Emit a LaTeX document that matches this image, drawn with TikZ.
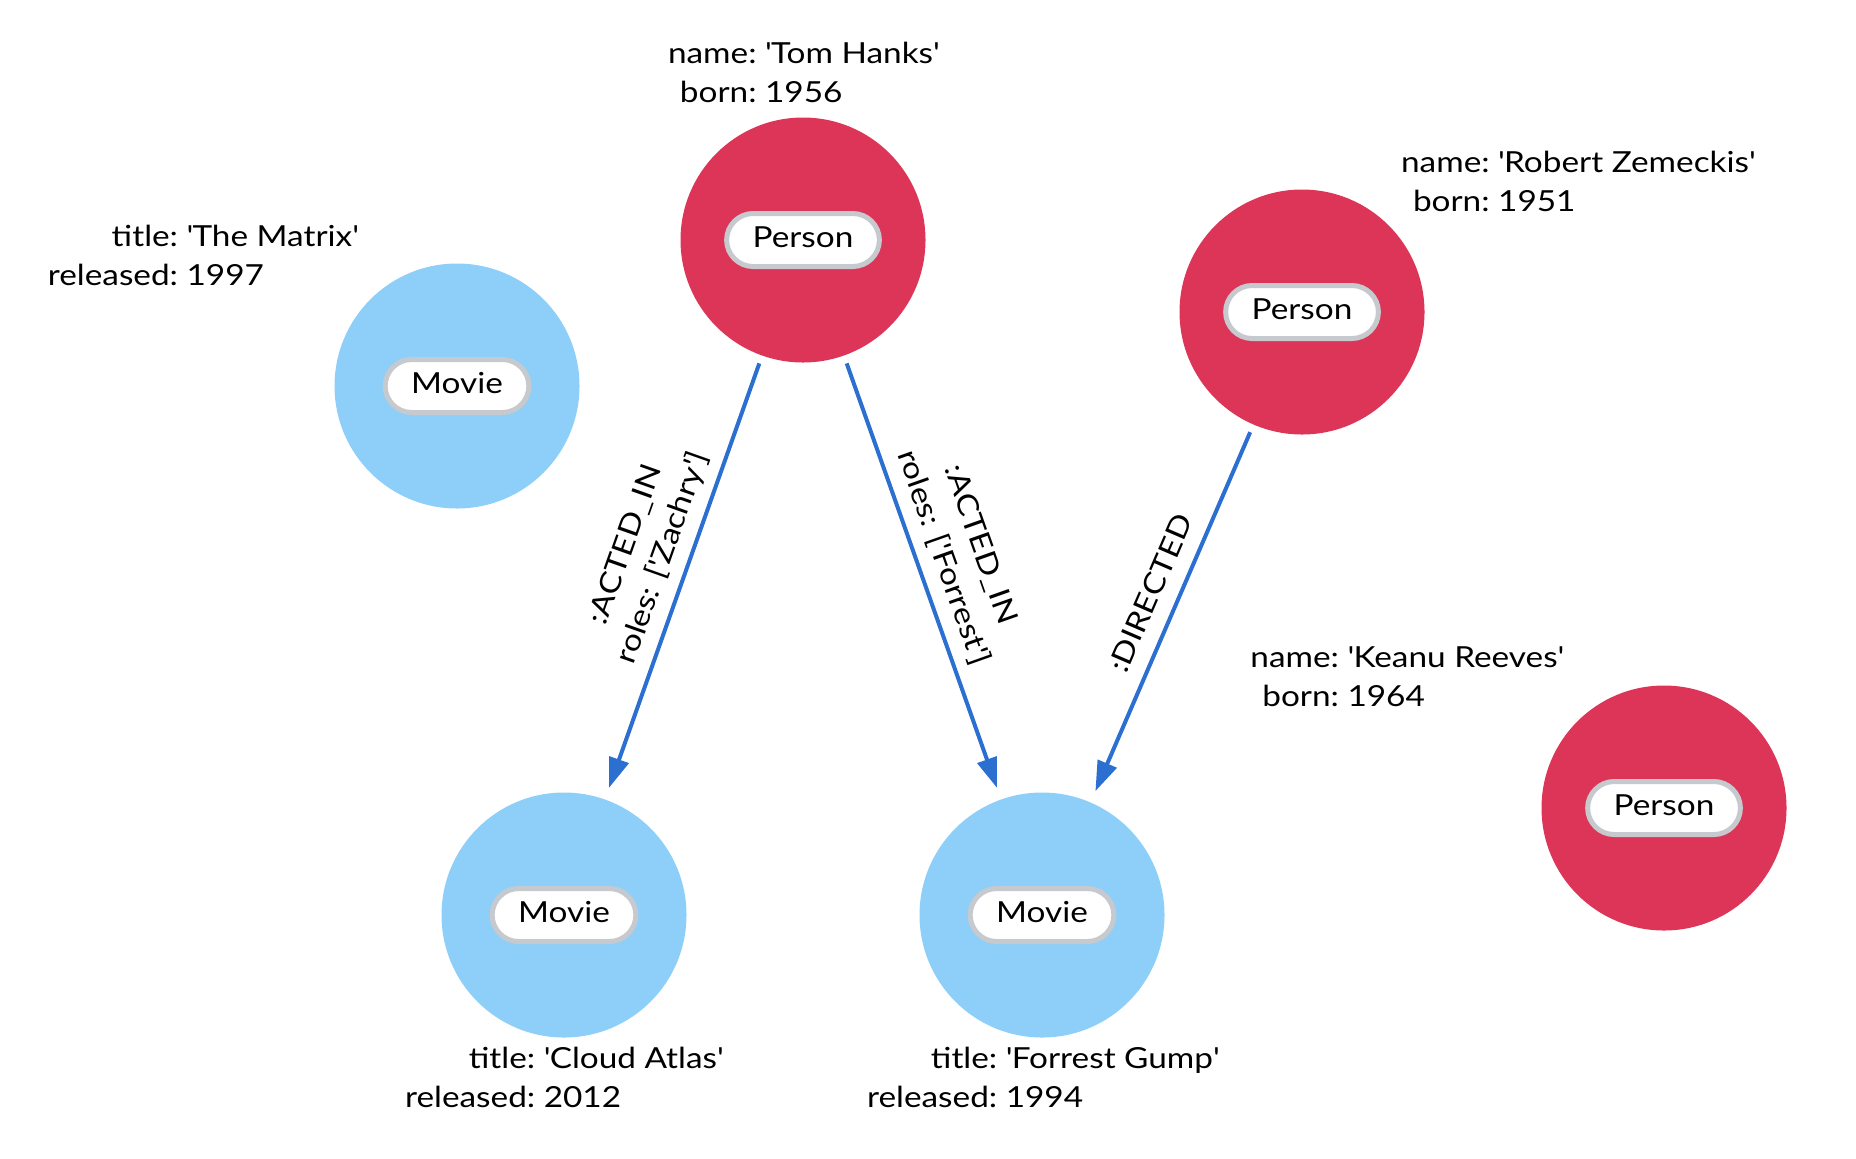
\documentclass[tikz,border=0pt]{standalone}
\usepackage{fontspec}
\setmainfont{Lato}[FakeStretch=1.15]
\usetikzlibrary{arrows.meta}
\definecolor{nodered}{HTML}{DC3558}
\definecolor{nodeblue}{HTML}{8DCFF8}
\definecolor{pillgray}{HTML}{C6C9CD}
\definecolor{relblue}{HTML}{2B6FD0}
\newcommand{\sq}{\textquotesingle}
\begin{document}
\begin{tikzpicture}[x=0.5pt,y=-0.5pt,
  font=\fontsize{14.5}{19.75}\selectfont,
  circ/.style={circle, minimum size=122.5pt, inner sep=0pt, draw=none},
  personc/.style={circ, fill=nodered},
  moviec/.style={circ, fill=nodeblue},
  pill/.style={rectangle, rounded corners=13.25pt, fill=white, draw=pillgray, line width=2.5pt,
    minimum height=26.5pt, inner xsep=13pt, inner ysep=0pt, text height=10.5pt, text depth=3pt},
  props/.style={inner sep=0pt},
  rel/.style={draw=relblue, line width=2pt, -{Triangle[length=15pt,width=10pt]},
    shorten <=4pt, shorten >=6pt},
  elabel/.style={sloped, anchor=south, inner sep=1.75pt, pos=0.475}
]
\useasboundingbox (0,0) rectangle (1856,1158);

% nodes
\node[personc] (tom) at (803,240) {};
\node[pill] (tomlbl) at (tom) {Person};
\node[props] (tomprops) at (803.5,75) {\begin{tabular}{@{}r@{\ }l@{}}name: & \sq Tom Hanks\sq\\ born: & 1956\end{tabular}};

\node[moviec] (matrix) at (457,386) {};
\node[pill] (matrixlbl) at (matrix) {Movie};
\node[props] (matrixprops) at (203,258) {\begin{tabular}{@{}r@{\ }l@{}}title: & \sq The Matrix\sq\\ released: & 1997\end{tabular}};

\node[personc] (robert) at (1302,312) {};
\node[pill] (robertlbl) at (robert) {Person};
\node[props] (robertprops) at (1578,184) {\begin{tabular}{@{}r@{\ }l@{}}name: & \sq Robert Zemeckis\sq\\ born: & 1951\end{tabular}};

\node[personc] (keanu) at (1664,808) {};
\node[pill] (keanulbl) at (keanu) {Person};
\node[props] (keanuprops) at (1407,679) {\begin{tabular}{@{}r@{\ }l@{}}name: & \sq Keanu Reeves\sq\\ born: & 1964\end{tabular}};

\node[moviec] (cloud) at (564,915) {};
\node[pill] (cloudlbl) at (cloud) {Movie};
\node[props] (cloudprops) at (564,1080) {\begin{tabular}{@{}r@{\ }l@{}}title: & \sq Cloud Atlas\sq\\ released: & 2012\end{tabular}};

\node[moviec] (forrest) at (1042,915) {};
\node[pill] (forrestlbl) at (forrest) {Movie};
\node[props] (forrestprops) at (1043,1080) {\begin{tabular}{@{}r@{\ }l@{}}title: & \sq Forrest Gump\sq\\ released: & 1994\end{tabular}};

% relationships
\draw[rel] (tom) -- node[elabel] (rel1) {\begin{tabular}{@{}c@{}}:ACTED\_IN\\ roles: [\sq Zachry\sq]\end{tabular}} (cloud);
\draw[rel] (tom) -- node[elabel] (rel2) {\begin{tabular}{@{}c@{}}:ACTED\_IN\\ roles: [\sq Forrest\sq]\end{tabular}} (forrest);
\draw[rel] (robert) -- node[elabel] (rel3) {\begin{tabular}{@{}c@{}}:DIRECTED\end{tabular}} (forrest);
\end{tikzpicture}
\end{document}
